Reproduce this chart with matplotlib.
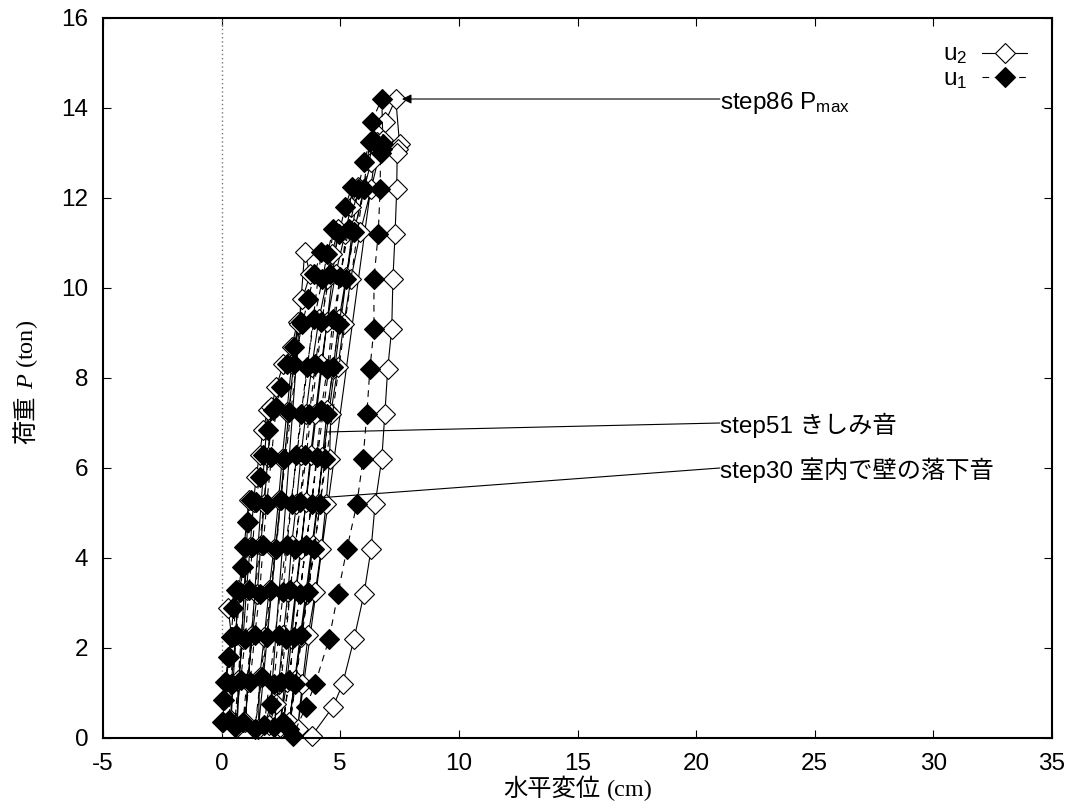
import matplotlib
matplotlib.use('Agg')
import matplotlib.pyplot as plt

plt.rcParams['font.family'] = ['Liberation Sans', 'Noto Sans CJK JP']
plt.rcParams['font.size'] = 17.5
plt.rcParams['axes.unicode_minus'] = False
plt.rcParams['mathtext.fontset'] = 'custom'
plt.rcParams['mathtext.sf'] = 'Liberation Sans'
plt.rcParams['mathtext.rm'] = 'Liberation Serif'
plt.rcParams['mathtext.it'] = 'Liberation Serif:italic'

# load history (ton) and displacements (cm), one line per cycle
load = [0.35, 0.85, 1.25, 1.8, 2.25, 2.9, 3.3, 0.4,
        1.2, 2.3, 3.25, 3.8, 4.25, 4.8, 5.3, 0.25,
        1.3, 2.2, 3.3, 4.25, 5.25, 5.8, 6.3, 6.85, 7.3, 0.35,
        1.25, 2.3, 3.2, 4.3, 5.2, 6.25, 7.35, 7.8, 8.3, 8.7, 9.25, 0.2,
        1.35, 2.25, 3.3, 4.2, 5.3, 6.2, 7.25, 8.3, 9.2, 9.75, 10.3, 10.8, 0.3,
        0.75, 1.2, 2.3, 3.25, 4.3, 5.2, 6.3, 7.2, 8.25, 9.3, 10.2, 10.75, 11.3, 0.25,
        1.25, 2.2, 3.3, 4.2, 5.25, 6.3, 7.2, 8.3, 9.25, 10.3, 11.2, 11.8, 12.25, 0.35,
        1.3, 2.25, 3.2, 4.3, 5.2, 6.25, 7.3, 8.2, 9.3, 10.25, 11.3, 12.2, 12.8, 13.25, 0.2,
        1.2, 2.3, 3.25, 4.2, 5.2, 6.2, 7.2, 8.25, 9.2, 10.2, 11.25, 12.2, 13.3, 13.7, 14.2,
        13.2, 13.1, 13.0, 12.2, 11.2, 10.2, 9.1, 8.2, 7.2, 6.2, 5.2, 4.2, 3.2, 2.2, 1.2, 0.7, 0.05]

u1 = [0.00, 0.05, 0.15, 0.28, 0.40, 0.50, 0.62, 0.30,
      0.45, 0.62, 0.78, 0.90, 1.00, 1.12, 1.25, 0.55,
      0.80, 1.00, 1.15, 1.30, 1.45, 1.60, 1.75, 1.95, 2.15, 0.90,
      1.20, 1.40, 1.60, 1.75, 1.90, 2.10, 2.30, 2.50, 2.75, 3.05, 3.35, 1.40,
      1.70, 1.90, 2.10, 2.30, 2.50, 2.65, 2.85, 3.05, 3.40, 3.65, 3.90, 4.20, 1.80,
      2.10, 2.20, 2.40, 2.60, 2.75, 2.95, 3.15, 3.35, 3.60, 3.90, 4.25, 4.45, 4.70, 2.20,
      2.50, 2.70, 2.90, 3.10, 3.30, 3.50, 3.70, 3.95, 4.20, 4.55, 4.95, 5.20, 5.50, 2.60,
      2.85, 3.05, 3.30, 3.55, 3.80, 4.00, 4.20, 4.45, 4.70, 5.00, 5.35, 5.75, 6.00, 6.25, 2.85,
      3.10, 3.35, 3.65, 3.90, 4.15, 4.35, 4.45, 4.70, 4.95, 5.25, 5.60, 6.00, 6.40, 6.33, 6.75,
      6.80, 6.75, 6.70, 6.68, 6.60, 6.42, 6.42, 6.25, 6.12, 5.96, 5.70, 5.28, 4.90, 4.53, 3.94, 3.56, 3.00]

u2 = [0.05, 0.10, 0.20, 0.30, 0.42, 0.27, 0.70, 0.40,
      0.40, 0.60, 0.70, 0.85, 0.95, 1.05, 1.15, 0.65,
      0.70, 0.90, 1.05, 1.20, 1.35, 1.45, 1.60, 1.75, 1.95, 1.00,
      1.10, 1.30, 1.50, 1.65, 1.80, 1.95, 2.10, 2.30, 2.60, 2.96, 3.20, 1.55,
      1.60, 1.80, 2.00, 2.20, 2.40, 2.55, 2.75, 2.95, 3.25, 3.40, 3.73, 3.50, 2.00,
      2.30, 2.40, 2.60, 2.80, 2.95, 3.15, 3.35, 3.55, 3.80, 4.10, 4.45, 4.65, 4.90, 2.45,
      2.75, 2.95, 3.15, 3.35, 3.55, 3.75, 3.95, 4.20, 4.45, 4.80, 5.20, 5.45, 5.75, 2.85,
      3.10, 3.35, 3.60, 3.85, 4.05, 4.25, 4.45, 4.70, 4.95, 5.25, 5.60, 6.00, 6.30, 6.55, 3.20,
      3.40, 3.65, 3.95, 4.20, 4.40, 4.55, 4.60, 4.90, 5.15, 5.45, 5.85, 6.30, 6.80, 6.90, 7.34,
      7.50, 7.45, 7.40, 7.38, 7.31, 7.22, 7.17, 7.00, 6.88, 6.75, 6.47, 6.30, 6.00, 5.58, 5.10, 4.70, 3.80]

W, H = 1075, 809
fig = plt.figure(figsize=(W / 100, H / 100), dpi=100)
ax = fig.add_axes([103 / W, 1 - 738 / H, 949 / W, 720 / H])

ax.axvline(0, color='#777777', ls=(0, (1, 2)), lw=1.0)

ax.plot(u2, load, color='black', lw=0.8, marker='D', ms=10, mfc='white',
        mec='black', mew=0.8, clip_on=False, label='u$_\\mathsf{2}$')
ax.plot(u1, load, color='black', lw=0.8, ls=(0, (6, 5)), marker='D', ms=10,
        mfc='black', mec='black', mew=0.8, clip_on=False, label='u$_\\mathsf{1}$')

ax.set_xlim(-5, 35)
ax.set_ylim(0, 16)
ax.set_xticks(range(-5, 36, 5))
ax.set_yticks(range(0, 17, 2))
ax.tick_params(direction='in', top=True, right=True, length=6, width=0.8, pad=10.5)
for s in ax.spines.values():
    s.set_linewidth(1.5)

ax.legend(loc='upper right', bbox_to_anchor=(1 - 25 / 949, 1 - 26 / 720),
          markerfirst=False, frameon=False, borderaxespad=0, borderpad=0,
          handlelength=1.85, handletextpad=0.6, labelspacing=0.08)

# annotations
ax.annotate('', xy=(7.6, 14.2), xytext=(21, 14.2),
            arrowprops=dict(arrowstyle='-|>', lw=0.8, color='black',
                            mutation_scale=14, shrinkA=0, shrinkB=0))
ax.annotate('', xy=(4.36, 6.8), xytext=(21, 7.0),
            arrowprops=dict(arrowstyle='-', lw=0.8, color='black', shrinkA=0, shrinkB=0))
ax.annotate('', xy=(3.94, 5.33), xytext=(21, 6.0),
            arrowprops=dict(arrowstyle='-', lw=0.8, color='black', shrinkA=0, shrinkB=0))
ax.text(21, 14.2, 'step86 P$_\\mathsf{max}$', ha='left', va='center_baseline')
ax.text(21, 7.0, 'step51 きしみ音', ha='left', va='center_baseline')
ax.text(21, 6.0, 'step30 室内で壁の落下音', ha='left', va='center_baseline')

# axis labels built from pieces (CJK gothic + serif)
xl1 = fig.text(0, 1 - 796 / H, '水平変位', family='Noto Sans CJK JP', va='baseline', ha='left')
xl2 = fig.text(0, 1 - 796 / H, '(cm)', family='Liberation Serif', va='baseline', ha='left')
yl1 = fig.text(33 / W, 0, '荷重', family='Noto Sans CJK JP', rotation=90,
               rotation_mode='anchor', ha='left', va='baseline')
yl2 = fig.text(33 / W, 0, '$P$ (ton)', family='Liberation Serif', rotation=90,
               rotation_mode='anchor', ha='left', va='baseline')

fig.canvas.draw()
r = fig.canvas.get_renderer()
gap = 7
w1 = xl1.get_window_extent(r).width
w2 = xl2.get_window_extent(r).width
x0 = 578 - (w1 + gap + w2) / 2
xl1.set_x(x0 / W)
xl2.set_x((x0 + w1 + gap) / W)

h1 = yl1.get_window_extent(r).height
h2 = yl2.get_window_extent(r).height
y0 = (H - 382) - (h1 + gap + h2) / 2
yl1.set_y(y0 / H)
yl2.set_y((y0 + h1 + gap) / H)

fig.savefig('out.png', dpi=100)
